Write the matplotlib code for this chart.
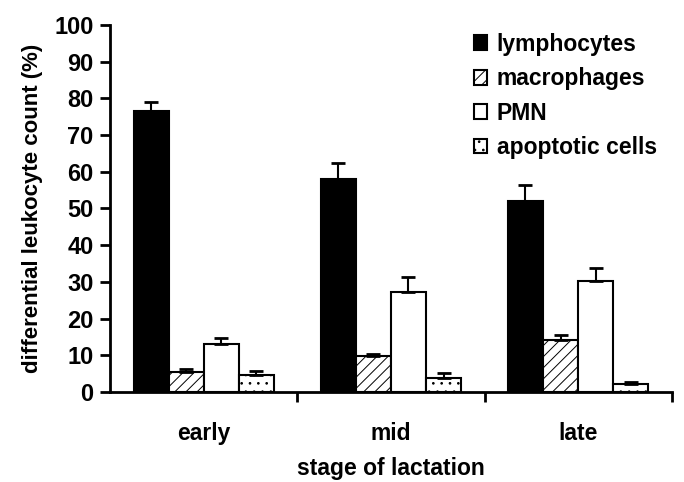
import matplotlib
matplotlib.use("Agg")
import matplotlib.pyplot as plt
import numpy as np

plt.rcParams['font.family'] = ['Liberation Sans', 'DejaVu Sans']
plt.rcParams['font.weight'] = 'bold'
plt.rcParams['axes.labelweight'] = 'bold'
plt.rcParams['hatch.linewidth'] = 0.7

categories = ["early", "mid", "late"]
series = ["lymphocytes", "macrophages", "PMN", "apoptotic cells"]
lymphocytes = [76.6, 58.0, 52.0]
lymphocytes_err = [2.3, 4.3, 4.3]
macrophages = [5.3, 9.8, 14.2]
macrophages_err = [0.9, 0.4, 1.4]
pmn = [13.1, 27.3, 30.2]
pmn_err = [1.5, 4.0, 3.6]
apoptotic = [4.6, 3.7, 2.2]
apoptotic_err = [1.1, 1.5, 0.4]

values = [lymphocytes, macrophages, pmn, apoptotic]
errors = [lymphocytes_err, macrophages_err, pmn_err, apoptotic_err]
colors = ["black", "white", "white", "white"]
hatches = [None, "///", None, ".."]

fig = plt.figure(figsize=(6.84, 4.82), dpi=100)
ax = fig.add_axes([0.161, 0.187, 0.821, 0.761])

x = np.arange(len(categories))
w = 0.1875
for i, (vals, errs) in enumerate(zip(values, errors)):
    pos = x - 1.5 * w + i * w
    ax.bar(pos, vals, w, color=colors[i], edgecolor="black", linewidth=1.5,
           hatch=hatches[i], label=series[i])
    ax.errorbar(pos, vals, yerr=[np.zeros(len(errs)), errs], fmt="none",
                ecolor="black", elinewidth=1.5, capsize=5, capthick=2)

ax.set_xlim(-0.5, 2.5)
ax.set_ylim(0, 100)
ax.set_yticks(np.arange(0, 101, 10))
ax.set_xticks([0.5, 1.5, 2.5], minor=False)
ax.set_xticklabels(["", "", ""])
ax.set_xticks(x, minor=True)
ax.set_xticklabels(categories, minor=True)
ax.tick_params(axis="x", which="minor", length=0, pad=22, labelsize=16.5)
ax.tick_params(axis="x", which="major", length=7, width=2, direction="out")
ax.tick_params(axis="y", length=7, width=2, direction="out", labelsize=17, pad=5)
for s in ["top", "right"]:
    ax.spines[s].set_visible(False)
for s in ["left", "bottom"]:
    ax.spines[s].set_linewidth(2)

ax.set_ylabel("differential leukocyte count (%)", fontsize=16, labelpad=8)
ax.set_xlabel("stage of lactation", fontsize=16.5, labelpad=8)

leg = ax.legend(loc="upper right", bbox_to_anchor=(1.01, 1.035), frameon=False,
                fontsize=16.5, handlelength=0.6, handleheight=0.6,
                handletextpad=0.4, labelspacing=0.5)

fig.savefig("out.png", dpi=100)
